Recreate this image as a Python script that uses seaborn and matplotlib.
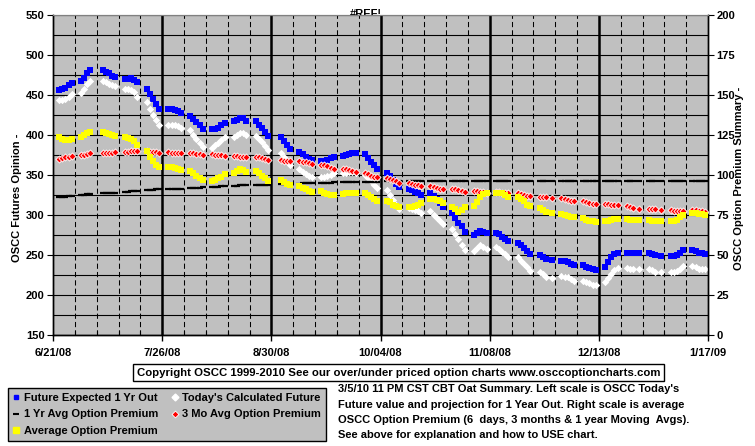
import pandas as pd
import matplotlib
matplotlib.use('Agg')
import matplotlib.pyplot as plt
import matplotlib.ticker as ticker
import matplotlib.dates as mdates
from matplotlib.lines import Line2D
import seaborn as sns

# trading days, one value per day (holiday weeks have 4 values)
holidays = ['2008-07-04', '2008-09-01', '2008-11-27', '2008-12-25', '2009-01-01']

# left scale
future_1yr = [
    456, 457, 459, 462, 465,
    468, 471, 477, 481,
    481, 479, 477, 474, 472,
    470, 470, 471, 469, 466,
    458, 451, 445, 439, 433,
    432, 432, 431, 430, 428,
    424, 420, 416, 412, 408,
    407, 407, 409, 412, 415,
    417, 419, 421, 421, 418,
    417, 413, 409, 404, 399,
    397, 392, 387, 382,
    379, 376, 373, 370, 369,
    368, 368, 369, 371, 373,
    374, 375, 376, 377, 377,
    376, 371, 366, 362, 358,
    353, 349, 344, 339, 335,
    333, 331, 329, 327, 325,
    327, 324, 320, 315, 310,
    303, 296, 290, 286, 279,
    275, 278, 280, 279, 278,
    278, 276, 273, 270, 267,
    265, 262, 259, 255, 251,
    250, 247, 245, 244,
    242, 242, 241, 239, 237,
    237, 235, 234, 232, 231,
    235, 241, 247, 251, 253,
    253, 253, 252, 253,
    253, 251, 250, 249,
    249, 249, 250, 253, 256,
    256, 255, 253, 252, 251,
]

todays_future = [
    444, 444, 445, 448, 451,
    453, 458, 464, 468,
    468, 466, 464, 462, 461,
    458, 457, 456, 454, 448,
    441, 433, 425, 419, 413,
    413, 413, 412, 411, 409,
    406, 400, 395, 390, 385,
    384, 387, 390, 394, 397,
    398, 400, 402, 402, 400,
    399, 395, 391, 386, 381,
    377, 373, 368, 363,
    358, 354, 351, 349, 347,
    348, 348, 349, 350, 352,
    352, 353, 354, 354, 352,
    350, 346, 342, 338, 334,
    331, 325, 319, 313, 308,
    309, 308, 306, 305, 303,
    305, 300, 296, 292, 289,
    283, 276, 270, 263, 256,
    255, 259, 262, 260, 258,
    260, 257, 254, 251, 248,
    247, 243, 239, 235, 230,
    229, 226, 223, 221,
    224, 223, 222, 220, 218,
    217, 216, 215, 213, 212,
    216, 221, 226, 231, 234,
    234, 233, 232, 233,
    233, 231, 229, 229,
    229, 229, 230, 233, 236,
    236, 235, 233, 232, 232,
]

# right scale
yr_avg_premium = [
    86, 86.5, 86.5, 87, 87,
    87.5, 87.5, 88, 88,
    88.5, 88.5, 89, 89, 89,
    89.5, 89.5, 90, 90, 90,
    90.5, 90.5, 90.5, 91, 91,
    91, 91.5, 91.5, 91.5, 91.5,
    92, 92, 92, 92, 92.5,
    92.5, 92.5, 92.5, 93, 93,
    93, 93, 93.5, 93.5, 93.5,
    93.5, 94, 94, 94, 94,
    94.5, 94.5, 94.5, 94.5,
    94.5, 95, 95, 95, 95,
    95, 95, 95, 95, 95.5,
    95.5, 95.5, 95.5, 95.5, 95.5,
    95.5, 95.5, 95.5, 95.5, 95.5,
    96, 96, 96, 96, 96,
    96, 96, 96, 96, 96,
    96, 96, 96, 96, 96,
    96, 96, 96, 96, 96,
    96, 96, 96, 96, 96,
    96.5, 96.5, 96.5, 96.5, 96.5,
    96.5, 96.5, 96.5, 96.5, 96.5,
    96.5, 96.5, 96.5, 96.5,
    96.5, 96.5, 96.5, 96.5, 96.5,
    96.5, 96.5, 96.5, 96.5, 96.5,
    96.5, 96.5, 96.5, 96.5, 96.5,
    96, 96, 96, 96,
    96, 96, 96, 96,
    96, 96, 96, 96, 96,
    96, 96, 96, 96, 96,
]

mo3_avg_premium = [
    110, 110.5, 111, 111.5, 112,
    112.5, 112.5, 113, 113.5,
    113.5, 113.5, 114, 114, 114.5,
    114.5, 114.5, 115, 115, 115,
    115, 114.5, 114.5, 114.5, 114,
    114.5, 114, 114, 114, 113.5,
    113.5, 113.5, 113, 113, 112.5,
    113, 112.5, 112.5, 112.5, 112,
    112, 112, 111.5, 111.5, 111.5,
    111, 111, 110.5, 110, 109.5,
    109.5, 109, 109, 108.5,
    108.5, 108, 108, 107.5, 107,
    106.5, 106, 105.5, 104.5, 104,
    104, 103.5, 103, 102.5, 102,
    101, 100.5, 99.5, 99, 98.5,
    98, 97.5, 97, 96, 95,
    95, 94.5, 94, 93.5, 93,
    93, 92.5, 92, 91.5, 91,
    91.5, 91, 90.5, 90, 89.5,
    90, 90, 89.5, 89.5, 89,
    89.5, 89.5, 89, 88.5, 88.5,
    88.5, 88, 87.5, 87, 87,
    86.5, 86, 86, 85.5,
    85.5, 85, 84.5, 84, 83.5,
    83.5, 83, 82.5, 82, 82,
    82, 82, 81.5, 81, 81,
    80.5, 80, 79.5, 79,
    79, 78.5, 78.5, 78,
    78, 77.5, 77.5, 77.5, 77.5,
    78, 78, 77.5, 77.5, 77,
]

avg_premium = [
    123.5, 122.5, 122, 122, 122.5,
    124, 125, 126, 127,
    127, 126, 125.5, 125, 124.5,
    123.5, 123, 122.5, 121, 118.5,
    115, 111.5, 108.5, 106.5, 105,
    105, 105, 104.5, 104, 103,
    102.5, 101, 99.5, 98, 97,
    96.5, 97, 98, 99, 100.5,
    101.5, 102.5, 103.5, 103, 102,
    102.5, 101, 99.5, 98, 96.5,
    97, 95.5, 94.5, 93.5,
    93, 92, 91, 90, 89.5,
    90, 89, 88, 87.5, 87.5,
    88, 88.5, 89, 89, 88.5,
    88.5, 87.5, 86, 85, 84,
    84, 83, 81.5, 80.5, 80,
    80, 80, 80.5, 81.5, 82.5,
    85, 85, 84.5, 84, 82.5,
    80, 79, 77, 78, 80,
    80.5, 83, 86, 88, 89,
    89, 89, 88.5, 87.5, 86,
    86.5, 85, 83.5, 81.5, 80.5,
    79.5, 78, 77, 76,
    75.5, 75, 74.5, 74, 73.5,
    73, 72, 71.5, 71, 70.5,
    71, 71.5, 72, 72.5, 72.5,
    72.5, 72, 72, 72,
    72, 71.5, 71.5, 71,
    71, 71, 72, 73.5, 75,
    76, 76, 75.5, 75.5, 75,
]

tick_labels = ['6/21/08', '7/26/08', '8/30/08', '10/04/08', '11/08/08', '12/13/08', '1/17/09']
legend_labels = ['Future Expected 1 Yr Out', "Today's Calculated Future",
                 '1 Yr Avg Option Premium', '3 Mo Avg Option Premium',
                 'Average Option Premium']
copyright_text = 'Copyright OSCC 1999-2010 See our over/under priced option charts www.osccoptioncharts.com'
note_lines = ["3/5/10 11 PM CST CBT Oat Summary. Left scale is OSCC Today's",
              'Future value and projection for 1 Year Out. Right scale is average',
              'OSCC Option Premium (6  days, 3 months & 1 year Moving  Avgs).',
              'See above for explanation and how to USE chart.']

days = pd.bdate_range('2008-06-23', '2009-01-16')
days = days[~days.isin(pd.to_datetime(holidays))]
df = pd.DataFrame({'date': days, 'future': future_1yr, 'today': todays_future,
                   'yr': yr_avg_premium, 'mo3': mo3_avg_premium, 'avg': avg_premium})

plt.rcParams['font.family'] = ['Liberation Sans', 'DejaVu Sans']
plt.rcParams['font.weight'] = 'bold'
plt.rcParams['font.size'] = 8

W, H = 755, 446
fig = plt.figure(figsize=(W / 100, H / 100), dpi=100)
fig.text(366 / W, 1 - 9 / H, '#REF!', ha='center', va='top', zorder=-1)
ax = fig.add_axes([53 / W, 111 / H, 655 / W, 320 / H])
ax.set_facecolor('#C0C0C0')
ax2 = ax.twinx()

blue, white, yellow, red = '#0000FF', '#FFFFFF', '#FFFF00', '#FF0000'
sns.scatterplot(data=df, x='date', y='future', ax=ax, marker='s', color=blue,
                s=25, linewidth=0, legend=False, zorder=3)
sns.scatterplot(data=df, x='date', y='today', ax=ax, marker='D', color=white,
                s=14, linewidth=0, legend=False, zorder=3)
sns.scatterplot(data=df, x='date', y='yr', ax=ax2, marker='_', color='black',
                s=16, linewidth=1.6, legend=False, zorder=3)
sns.scatterplot(data=df, x='date', y='mo3', ax=ax2, marker='D', color=red,
                s=13, edgecolor='white', linewidth=0.6, legend=False, zorder=3)
sns.scatterplot(data=df, x='date', y='avg', ax=ax2, marker='s', color=yellow,
                s=25, linewidth=0, legend=False, zorder=3)

major_dates = pd.date_range('2008-06-21', periods=7, freq='35D')
minor_dates = pd.date_range('2008-06-21', '2009-01-17', freq='7D')
ax.set_xlim(mdates.date2num(major_dates[0]), mdates.date2num(major_dates[-1]))
ax.set_ylim(150, 550)
ax2.set_ylim(0, 200)
ax.xaxis.set_major_locator(ticker.FixedLocator(mdates.date2num(major_dates)))
ax.xaxis.set_major_formatter(ticker.FixedFormatter(tick_labels))
ax.xaxis.set_minor_locator(ticker.FixedLocator(mdates.date2num(minor_dates)))
ax.yaxis.set_major_locator(ticker.MultipleLocator(50))
ax.yaxis.set_minor_locator(ticker.MultipleLocator(25))
ax2.yaxis.set_major_locator(ticker.MultipleLocator(25))

# vertical grid: dashed weekly, solid every 5 weeks
for d in minor_dates:
    ax.axvline(d, color='black', lw=0.75, linestyle=(0, (5, 3)), zorder=0.5)
for d in major_dates[1:-1]:
    ax.axvline(d, color='black', lw=1.8, zorder=0.6)
ax.set_axisbelow(True)
ax.grid(which='both', axis='y', color='black', lw=0.8)

ax.tick_params(axis='x', which='major', direction='out', length=4, width=1, pad=5)
ax.tick_params(axis='x', which='minor', direction='in', length=3, width=0.8)
ax.tick_params(axis='y', which='major', direction='out', length=4, pad=2)
ax.tick_params(axis='y', which='minor', length=0)
ax2.tick_params(axis='y', direction='out', length=4, pad=2)
ax.set_xlabel('')
ax.set_ylabel('')
ax2.set_ylabel('')
for a in (ax, ax2):
    for side in ('left', 'right', 'bottom'):
        a.spines[side].set_color('black')
        a.spines[side].set_linewidth(1)
    a.spines['top'].set_color('#808080')

fig.text(17 / W, 1 - 198 / H, 'OSCC Futures Opinion -', rotation=90, ha='center', va='center')
fig.text(739 / W, 1 - 178 / H, 'OSCC Option Premium Summary -', rotation=90, ha='center', va='center')

fig.text(398.5 / W, 1 - 372.5 / H, copyright_text, ha='center', va='center', fontsize=8.2,
         bbox=dict(boxstyle='square,pad=0.3', fc='white', ec='black', lw=1))
for i, line in enumerate(note_lines):
    fig.text(338 / W, 1 - (389 + i * 15.5) / H, line, ha='left', va='center')

handles = [
    Line2D([], [], marker='s', color=blue, linestyle='none', markersize=3.5),
    Line2D([], [], marker='_', color='black', linestyle='none', markersize=5, markeredgewidth=1.5),
    Line2D([], [], marker='s', color=yellow, linestyle='none', markersize=4),
    Line2D([], [], marker='D', color=white, linestyle='none', markersize=3.5),
    Line2D([], [], marker='D', color=red, markeredgecolor='white', markeredgewidth=0.6,
           linestyle='none', markersize=3.5),
]
labels = [legend_labels[0], legend_labels[2], legend_labels[4], legend_labels[1], legend_labels[3]]
leg = fig.legend(handles, labels, loc='upper left', bbox_to_anchor=(8 / W, 1 - 388 / H),
                 ncol=2, frameon=True, fancybox=False, facecolor='#C0C0C0', edgecolor='black',
                 framealpha=1, borderpad=0.45, labelspacing=0.58, handlelength=0.6,
                 handletextpad=0.35, columnspacing=1.2, borderaxespad=0)
leg.get_frame().set_linewidth(1)

fig.savefig('out.png', dpi=100)
